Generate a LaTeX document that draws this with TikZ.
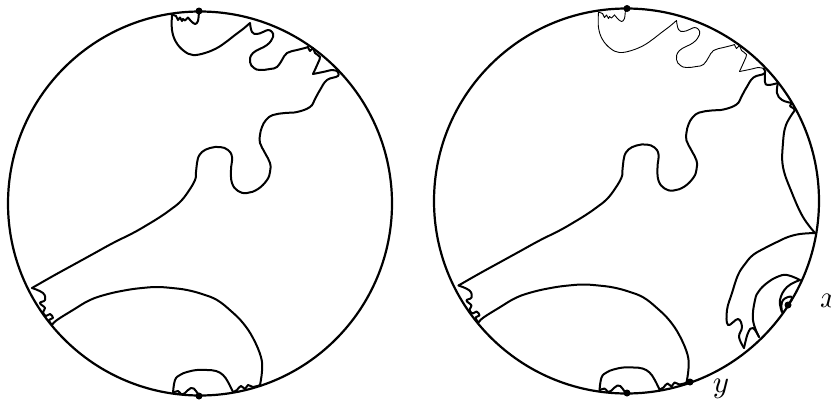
\documentclass[tikz,border=0pt]{standalone}
\tikzset{
  bold/.style={line width=2pt,line cap=round,line join=round},
  rim/.style={line width=2.2pt},
  fine/.style={line width=0.9pt,line cap=round,line join=round},
  spot/.style={circle,fill=black,inner sep=0pt,minimum size=7pt},
  lab/.style={inner sep=0pt}
}
\newcommand{\upperarc}[1]{%
  \draw[#1] plot[smooth,tension=.55] coordinates {(199,11) (198,21) (195,24) (191,21) (188,17.5)};
  \draw[#1] (188,17.5) -- (185,20.5) -- (183,19) -- (182,21) -- (180,17.5) -- (178,20) -- (176,16) -- (172,14.5);
  \draw[#1] plot[smooth,tension=.65] coordinates {(172,14.5) (172,30) (176,42) (184,51) (193,55) (205,53) (217,48) (226,42) (235,35) (243,29) (250,23)};
  \draw[#1] plot[smooth,tension=.7] coordinates {(250,23) (252,32) (257,34) (263,32) (268,30) (272,32) (273,37) (267,45) (253,53) (250,62) (254,68) (260,70) (270,69) (277,67) (282,60) (287,53) (297,50) (305,48) (308,47)};
  \draw[#1] plot[smooth,tension=.5] coordinates {(308,47) (310,51) (313,48) (315,53) (320,57) (318,63) (313,74)};
  \draw[#1] plot[smooth,tension=.5] coordinates {(313,74) (323,72) (332,70) (337,71)};
}
\newcommand{\mainarc}{%
  \draw[bold] plot[smooth,tension=.7] coordinates {(337,71) (338,76) (327,80) (320,90) (315,99) (310,107) (297,112) (285,113) (273,115) (266,120) (262,127) (260,135) (260,143) (265,153) (270,163) (270,172) (267,180) (258,189) (247,193) (238,191) (232,183) (231,170) (232,157) (228,150) (220,147) (210,148) (202,152) (198,158) (197,163) (196,172) (195,180) (188,192) (180,202) (170,210) (160,217) (147,225) (133,233) (113,243) (93,254) (73,265) (53,276) (32,288)};
  \draw[bold] plot[smooth,tension=.7] coordinates {(32,288) (43,293) (45,300) (40,303) (45,308) (43,312) (46,316) (50,314) (53,318) (49,320) (52,325)};
  \draw[bold] plot[smooth,tension=.65] coordinates {(52,325) (57,320) (73,310) (90,300) (108,294) (127,290) (142,288) (157,287) (172,288) (187,290) (202,294) (217,300) (231,311) (243,323) (253,338) (261,357) (262,371) (260,385)};
  \draw[bold] plot[smooth,tension=.9] coordinates {(260,385) (253,387) (248,385) (245,389) (241,386) (237,390) (233,392)};
  \draw[bold] plot[smooth,tension=.7] coordinates {(233,392) (228,382) (223,375) (216,371) (207,370) (197,370) (187,372) (180,375) (175,380) (173,393)};
  \draw[bold] plot[smooth,tension=.9] coordinates {(173,393) (178,391) (181,394) (185,393) (191,388) (196,391) (199,396)};
}
\begin{document}
\begin{tikzpicture}[x=1pt,y=-1pt]
\useasboundingbox (0,0) rectangle (831,400);
% left disc
\draw[rim] (200,203.5) circle[radius=192];
\upperarc{bold}
\mainarc
\node[spot] (a) at (199,11) {};
\node[spot] (b) at (199,396) {};
% right disc
\draw[rim] (626.5,201) circle[radius=192.5];
\begin{scope}[shift={(426.5,-2.5)}]
  \upperarc{fine}
  \mainarc
\end{scope}
\draw[bold] plot[smooth,tension=.7] coordinates {(765,72) (765,82) (768,85) (778,83)};
\draw[bold] plot[smooth,tension=.7] coordinates {(778,83) (777,93) (782,100) (792,103)};
\draw[bold] plot[smooth,tension=.6] coordinates {(792,103) (790,106) (793,108) (795,110)};
\draw[bold] plot[smooth,tension=.65] coordinates {(795,110) (786,125) (783,143) (783,167) (792,193) (803,217) (815,233)};
\draw[bold] plot[smooth,tension=.65] coordinates {(815,233) (800,234) (788,237) (777,242) (765,248) (753,255) (745,264) (738,275) (732,293) (727,310) (728,325) (738,319) (742,327) (739,337) (744,348)};
\draw[bold] plot[smooth,tension=.7] coordinates {(744,348) (748,333) (753,328) (759,337)};
\draw[bold] plot[smooth,tension=.7] coordinates {(759,337) (753,320) (755,300) (759,291) (767,283) (777,277) (787,275) (800,280)};
\draw[bold] plot[smooth,tension=.7] coordinates {(800,280) (787,287) (780,300) (782,312)};
\draw[bold] plot[smooth,tension=.8] coordinates {(782,312) (782,302) (788,297) (792,298) (788,305)};
\node[spot] (c) at (627,8.5) {};
\node[spot] (d) at (627,393) {};
\node[spot] (e) at (690,382) {};
\node[spot] (f) at (788,305) {};
\node[lab] (x) at (829,300.5) {\scalebox{3.1}{$x$}};
\node[lab] (y) at (721,389) {\scalebox{3.1}{$y$}};
\end{tikzpicture}
\end{document}
